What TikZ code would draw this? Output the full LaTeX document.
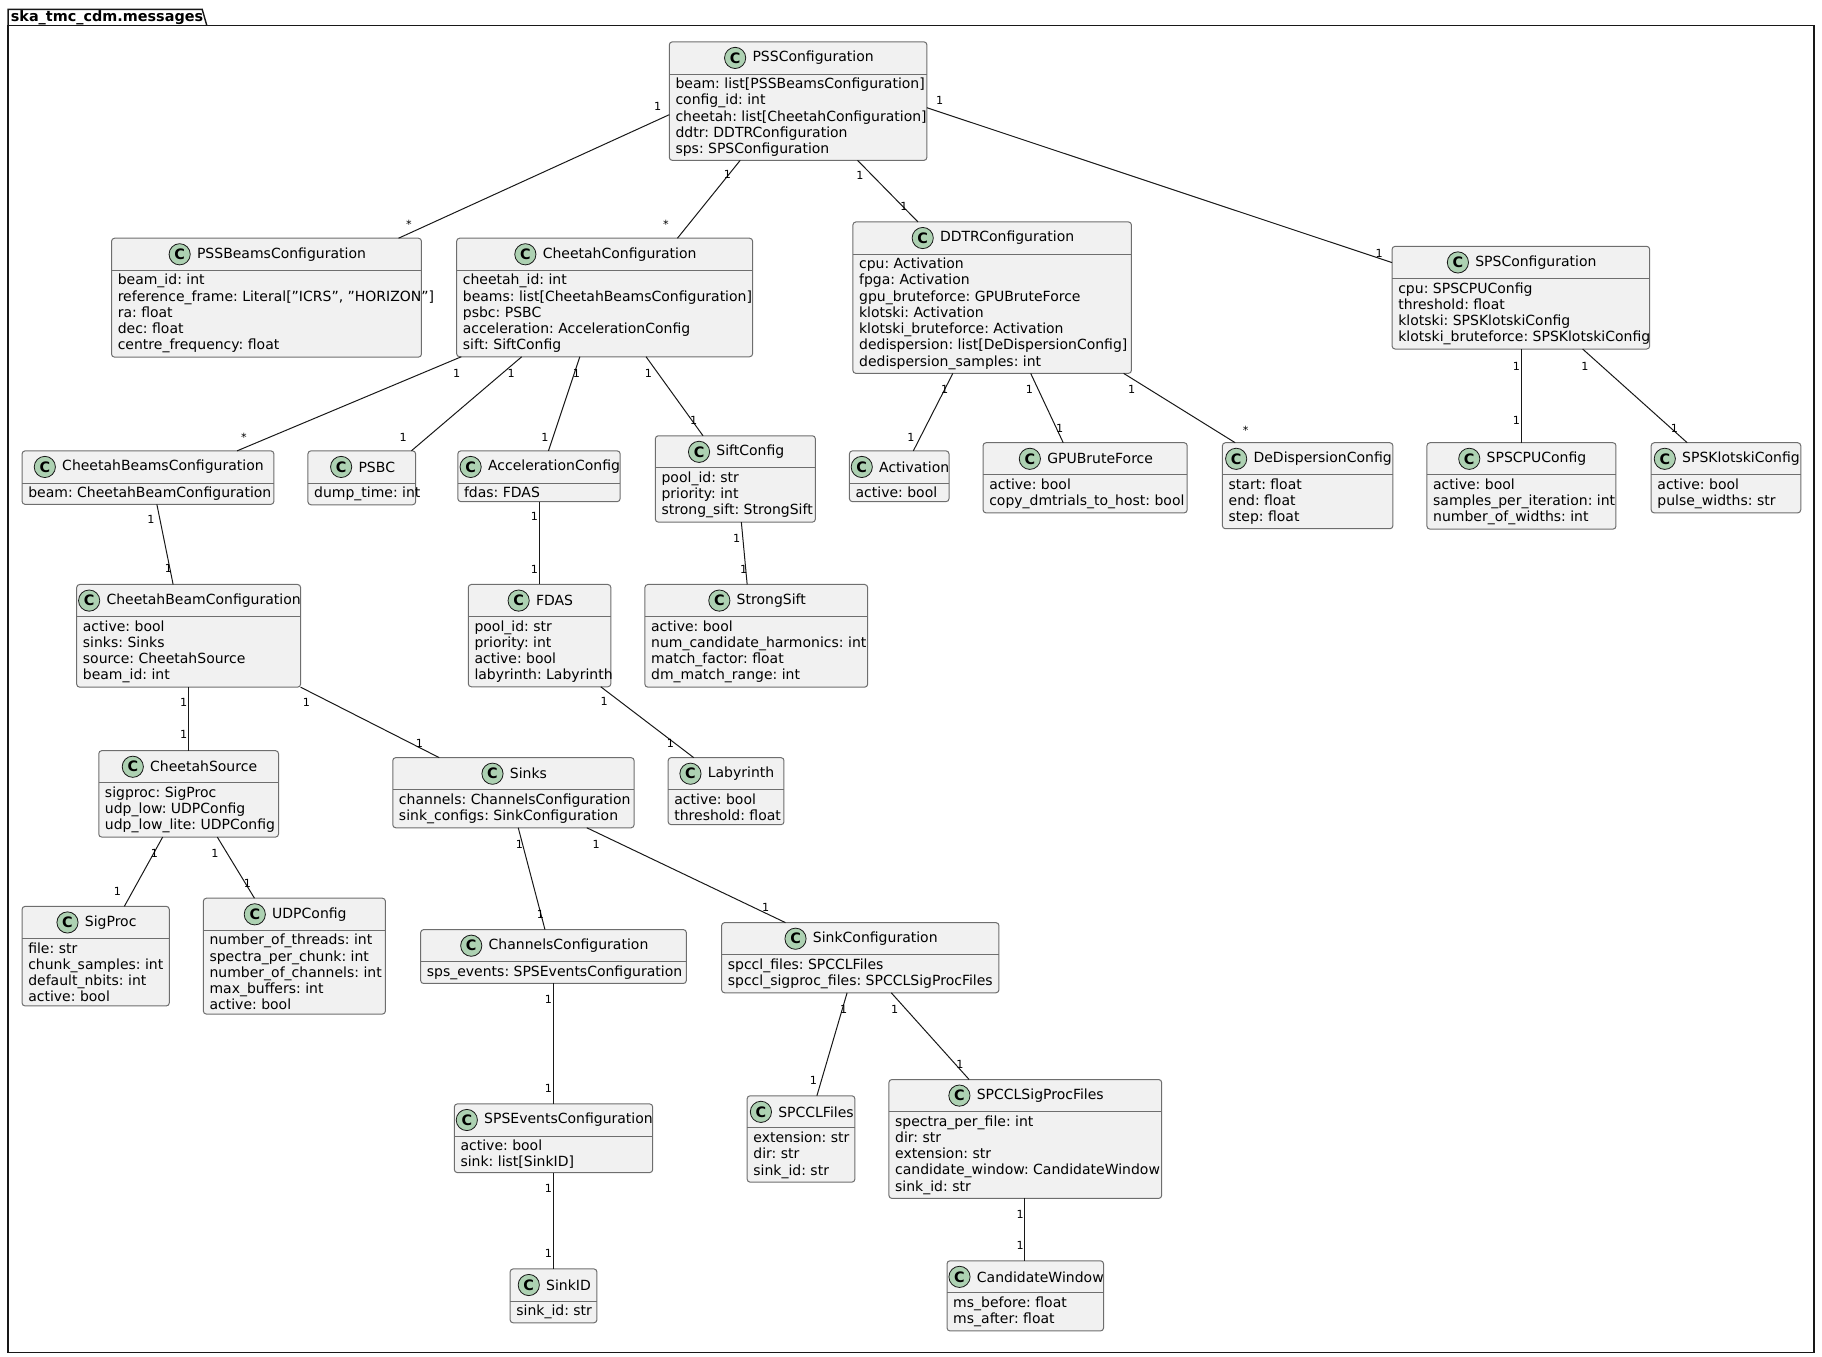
\documentclass[tikz,border=0pt]{standalone}
\usepackage{fontspec}
\setmainfont{DejaVu Sans}
\frenchspacing
\usetikzlibrary{calc,backgrounds}
\newdimen\upx \upx=0.581pt
\definecolor{boxfill}{HTML}{F1F1F1}
\definecolor{boxline}{HTML}{6E6E6E}
\definecolor{iconfill}{HTML}{ADD1B2}
\definecolor{cline}{HTML}{181818}
\newcommand\cls[6]{%
  \node[tb,minimum width=#4\upx,anchor=north west] (#1) at (#2,#3) {};
  \node[tn] (#1n) at ([xshift=7.5pt]#1.center) {#5};
  \node[icon] (#1i) at ([xshift=-8.5pt]#1n.west) {C};
  \node[fb,anchor=north west] (#1t) at (#1.south west) {#6};
  \coordinate (#1f) at (#1.south);
  \coordinate (#1fsw) at (#1.south west |- #1t.south);
  \coordinate (#1fse) at (#1.south east |- #1t.south);
  \begin{scope}[on background layer]
  \draw[boxline,fill=boxfill,line width=0.5pt,rounded corners=1.5pt] (#1.north west) rectangle (#1fse);
  \draw[boxline,line width=0.5pt] (#1.south west) -- (#1.south east);
  \end{scope}
}
\newcommand\ed[8]{%
  \draw[cn] #1 coordinate (ea) -- #2 coordinate (eb);
  \node[lb] at ($(ea)+(#3,#4)$) {#5};
  \node[lb] at ($(eb)+(#6,#7)$) {#8};
}
\begin{document}
\begin{tikzpicture}[x=0.581pt,y=-0.581pt,
  tb/.style={inner sep=0pt,minimum height=27\upx},
  tn/.style={inner sep=0pt,font=\fontsize{7}{8.1}\selectfont},
  icon/.style={circle,draw=cline,fill=iconfill,line width=0.4pt,minimum size=10.6pt,inner sep=0pt,font=\bfseries\fontsize{7.2}{7.2}\selectfont},
  fb/.style={inner xsep=5\upx,inner ysep=3\upx,align=left,font=\fontsize{7}{8.13}\selectfont},
  cn/.style={draw=cline,line width=0.5pt},
  lb/.style={inner sep=0pt,font=\fontsize{5.6}{5.6}\selectfont}]
\useasboundingbox (0,0) rectangle (1568,1167);
% package
\draw[cline,line width=0.7pt] (7,22) -- (7,8) -- (174,8) -- (178,22);
\draw[cline,line width=0.7pt] (7,22) rectangle (1561,1164);
\node[anchor=west,inner sep=0pt,font=\bfseries\fontsize{7.2}{7.2}\selectfont] at (9,15) {ska\_tmc\_cdm.messages};
% classes
\cls{PSS}{576}{36}{221}{PSSConfiguration}{beam: list[PSSBeamsConfiguration]\\config\_id: int\\cheetah: list[CheetahConfiguration]\\ddtr: DDTRConfiguration\\sps: SPSConfiguration}
\cls{PSSBeams}{96}{205}{266}{PSSBeamsConfiguration}{beam\_id: int\\reference\_frame: Literal["ICRS", "HORIZON"]\\ra: float\\dec: float\\centre\_frequency: float}
\cls{Cheetah}{393}{205}{254}{CheetahConfiguration}{cheetah\_id: int\\beams: list[CheetahBeamsConfiguration]\\psbc: PSBC\\acceleration: AccelerationConfig\\sift: SiftConfig}
\cls{DDTR}{734}{191}{239}{DDTRConfiguration}{cpu: Activation\\fpga: Activation\\gpu\_bruteforce: GPUBruteForce\\klotski: Activation\\klotski\_bruteforce: Activation\\dedispersion: list[DeDispersionConfig]\\dedispersion\_samples: int}
\cls{SPS}{1198}{212}{221}{SPSConfiguration}{cpu: SPSCPUConfig\\threshold: float\\klotski: SPSKlotskiConfig\\klotski\_bruteforce: SPSKlotskiConfig}
\cls{CBs}{19}{388}{216}{CheetahBeamsConfiguration}{beam: CheetahBeamConfiguration}
\cls{PSBC}{265}{388}{92}{PSBC}{dump\_time: int}
\cls{Accel}{394}{388}{139}{AccelerationConfig}{fdas: FDAS}
\cls{Sift}{564}{375}{137}{SiftConfig}{pool\_id: str\\priority: int\\strong\_sift: StrongSift}
\cls{Activation}{731}{388}{85}{Activation}{active: bool}
\cls{GPU}{846}{381}{175}{GPUBruteForce}{active: bool\\copy\_dmtrials\_to\_host: bool}
\cls{DeDisp}{1052}{381}{146}{DeDispersionConfig}{start: float\\end: float\\step: float}
\cls{SPSCPU}{1228}{381}{162}{SPSCPUConfig}{active: bool\\samples\_per\_iteration: int\\number\_of\_widths: int}
\cls{Klotski}{1421}{381}{128}{SPSKlotskiConfig}{active: bool\\pulse\_widths: str}
\cls{CB}{66}{503}{192}{CheetahBeamConfiguration}{active: bool\\sinks: Sinks\\source: CheetahSource\\beam\_id: int}
\cls{FDAS}{403}{503}{122}{FDAS}{pool\_id: str\\priority: int\\active: bool\\labyrinth: Labyrinth}
\cls{StrongSift}{555}{503}{191}{StrongSift}{active: bool\\num\_candidate\_harmonics: int\\match\_factor: float\\dm\_match\_range: int}
\cls{Source}{85}{646}{154}{CheetahSource}{sigproc: SigProc\\udp\_low: UDPConfig\\udp\_low\_lite: UDPConfig}
\cls{Sinks}{338}{652}{207}{Sinks}{channels: ChannelsConfiguration\\sink\_configs: SinkConfiguration}
\cls{Labyrinth}{575}{652}{99}{Labyrinth}{active: bool\\threshold: float}
\cls{SigProc}{19}{780}{126}{SigProc}{file: str\\chunk\_samples: int\\default\_nbits: int\\active: bool}
\cls{UDP}{175}{773}{156}{UDPConfig}{number\_of\_threads: int\\spectra\_per\_chunk: int\\number\_of\_channels: int\\max\_buffers: int\\active: bool}
\cls{Channels}{362}{800}{228}{ChannelsConfiguration}{sps\_events: SPSEventsConfiguration}
\cls{SinkConfig}{621}{794}{238}{SinkConfiguration}{spccl\_files: SPCCLFiles\\spccl\_sigproc\_files: SPCCLSigProcFiles}
\cls{SPSEvents}{391}{950}{170}{SPSEventsConfiguration}{active: bool\\sink: list[SinkID]}
\cls{SPCCL}{643}{943}{92}{SPCCLFiles}{extension: str\\dir: str\\sink\_id: str}
\cls{SigProcFiles}{765}{929}{234}{SPCCLSigProcFiles}{spectra\_per\_file: int\\dir: str\\extension: str\\candidate\_window: CandidateWindow\\sink\_id: str}
\cls{SinkID}{439}{1092}{74}{SinkID}{sink\_id: str}
\cls{Candidate}{815}{1085}{134}{CandidateWindow}{ms\_before: float\\ms\_after: float}
% connectors
\ed{($(PSS.south west)+(0,35)$)}{($(PSSBeams.north west)+(247,0)$)}{-10}{-7}{1}{9}{-12}{*}
\ed{($(PSSfsw)+(61,0)$)}{($(Cheetah.north west)+(190,0)$)}{-11}{12}{1}{-10}{-12}{*}
\ed{($(PSSfsw)+(162,0)$)}{($(DDTR.north west)+(56,0)$)}{2}{13}{1}{-12}{-13}{1}
\ed{($(PSS.south east)+(0,29)$)}{($(SPS.north west)+(0,14)$)}{11}{-6}{1}{-11}{-8}{1}
\ed{($(Cheetahfsw)+(4,0)$)}{($(CBs.north west)+(185,0)$)}{-4}{14}{1}{6}{-12}{*}
\ed{($(Cheetahfsw)+(56,0)$)}{($(PSBC.north west)+(89,0)$)}{-9}{14}{1}{-7}{-12}{1}
\ed{($(Cheetahfsw)+(106,0)$)}{($(Accel.north west)+(78,0)$)}{-3}{14}{1}{-3}{-12}{1}
\ed{($(Cheetahfsw)+(163,0)$)}{($(Sift.north west)+(41,0)$)}{2}{14}{1}{-8}{-13}{1}
\ed{($(DDTRfsw)+(86,0)$)}{($(Activation.north west)+(55,0)$)}{-7}{14}{1}{-2}{-12}{1}
\ed{($(DDTRfsw)+(153,0)$)}{($(GPU.north west)+(69,0)$)}{-1}{14}{1}{-3}{-12}{1}
\ed{($(DDTRfsw)+(233,0)$)}{($(DeDisp.north west)+(11,0)$)}{7}{14}{1}{9}{-11}{*}
\ed{($(SPSfsw)+(111,0)$)}{($(SPSCPU.north west)+(81,0)$)}{-4}{15}{1}{-4}{-19}{1}
\ed{($(SPSfsw)+(164,0)$)}{($(Klotski.north west)+(31,0)$)}{2}{15}{1}{-11}{-12}{1}
\ed{($(CBsfsw)+(116,0)$)}{($(CB.north west)+(83,0)$)}{-5}{13}{1}{-4}{-14}{1}
\ed{($(Accelfsw)+(70,0)$)}{($(FDAS.north west)+(61,0)$)}{-4}{13}{1}{-4}{-13}{1}
\ed{($(Siftfsw)+(74,0)$)}{($(StrongSift.north west)+(88,0)$)}{-4}{14}{1}{-3}{-13}{1}
\ed{($(CBfsw)+(96,0)$)}{($(Source.north west)+(77,0)$)}{-4}{13}{1}{-4}{-14}{1}
\ed{($(CBfse)+(0,0)$)}{($(Sinks.north west)+(40,0)$)}{5}{13}{1}{-17}{-12}{1}
\ed{($(FDASfsw)+(114,0)$)}{($(Labyrinth.north west)+(22,0)$)}{3}{13}{1}{-20}{-12}{1}
\ed{($(Sourcefsw)+(55,0)$)}{($(SigProc.north west)+(88,0)$)}{-7}{14}{1}{-6}{-13}{1}
\ed{($(Sourcefsw)+(102,0)$)}{($(UDP.north west)+(44,0)$)}{-2}{14}{1}{-6}{-13}{1}
\ed{($(Sinksfsw)+(108,0)$)}{($(Channels.north west)+(107,0)$)}{1}{14}{1}{-4}{-13}{1}
\ed{($(Sinksfsw)+(167,0)$)}{($(SinkConfig.north west)+(55,0)$)}{8}{14}{1}{-17}{-13}{1}
\ed{($(Channelsfsw)+(114,0)$)}{($(SPSEvents.north west)+(85,0)$)}{-4}{14}{1}{-4}{-13}{1}
\ed{($(SinkConfigfsw)+(108,0)$)}{($(SPCCL.north west)+(60,0)$)}{-3}{14}{1}{-3}{-13}{1}
\ed{($(SinkConfigfsw)+(146,0)$)}{($(SigProcFiles.north west)+(69,0)$)}{3}{14}{1}{-8}{-13}{1}
\ed{($(SPSEventsfsw)+(85,0)$)}{($(SinkID.north west)+(37,0)$)}{-4}{14}{1}{-4}{-13}{1}
\ed{($(SigProcFilesfsw)+(117,0)$)}{($(Candidate.north west)+(67,0)$)}{-4}{14}{1}{-4}{-13}{1}
\end{tikzpicture}
\end{document}
